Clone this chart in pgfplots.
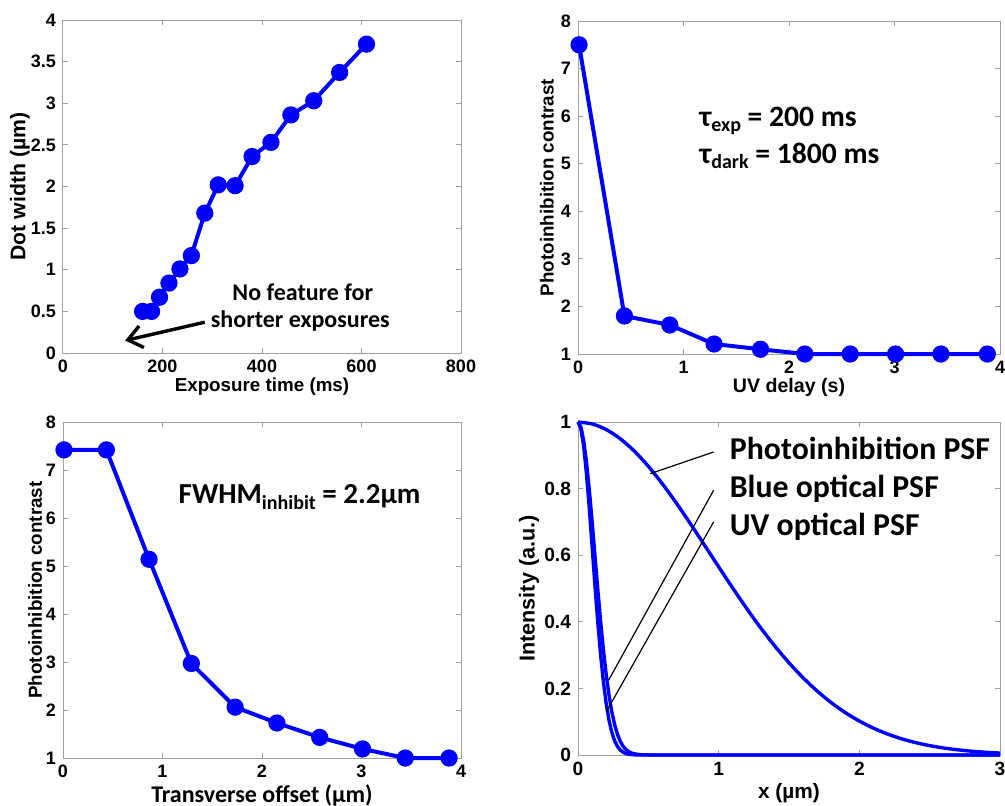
\documentclass[border=0pt]{standalone}
\usepackage{fontspec}
\setmainfont{Liberation Sans}
\newfontfamily\calibri{Carlito}
\usepackage{pgfplots}
\pgfplotsset{compat=1.18}
\usetikzlibrary{arrows.meta}

\tikzset{
  note/.style={font=\calibri\bfseries\fontsize{#1}{#1}\selectfont, inner sep=0pt},
}
\newcommand{\sub}[2][2.5pt]{\raisebox{-#1}{\fontsize{10}{10}\selectfont #2}}
\pgfplotsset{
  panel/.style={
    scale only axis,
    anchor=south west,
    axis line style={gray!75, line width=0.5pt},
    tick style={gray!75, line width=0.5pt},
    tick align=inside,
    major tick length=2.5pt,
    ticklabel style={font=\bfseries\fontsize{9}{10}\selectfont},
    /pgf/number format/assume math mode=true,
    label style={font=\bfseries\fontsize{9.4}{11}\selectfont},
    xlabel style={anchor=center},
    ylabel style={anchor=center},
    clip=false,
  },
  dataline/.style={blue, line width=2pt, mark=*, mark size=3.3pt,
    mark options={solid, fill=blue, draw=blue}},
  psf/.style={blue, line width=1.7pt},
}

\begin{document}
\begin{tikzpicture}
\useasboundingbox (0pt,0pt) rectangle (502.5pt,-402.5pt);

% Dot width versus exposure time
\begin{axis}[panel, at={(31.5pt,-176.5pt)}, width=199pt, height=166.5pt,
  xmin=0, xmax=800, ymin=0, ymax=4,
  xtick={0,200,400,600,800}, ytick={0,0.5,1,1.5,2,2.5,3,3.5,4},
  xlabel={Exposure time (ms)}, ylabel={Dot width (µm)},
  xlabel style={at={(axis description cs:0.5,-0.102)}},
  ylabel style={at={(axis description cs:-0.108,0.5)}, font=\bfseries\fontsize{10.6}{12}\selectfont}]
\addplot[dataline] coordinates {
  (160,0.50) (178,0.50) (194,0.67) (213,0.84) (235,1.01) (258,1.17)
  (285,1.68) (312,2.02) (346,2.01) (380,2.36) (418,2.53) (458,2.86)
  (504,3.03) (556,3.37) (610,3.71)};
\draw[-{Straight Barb[length=7pt,width=11pt]}, line width=1.7pt]
  (axis cs:285,0.37) -- (axis cs:125,0.15);
\node[note=12] at (axis cs:482,0.73) {No feature for};
\node[note=12] at (axis cs:477,0.39) {shorter exposures};
\end{axis}

% Contrast versus UV delay
\begin{axis}[panel, at={(289pt,-177pt)}, width=211pt, height=166.5pt,
  xmin=0, xmax=4, ymin=1, ymax=8,
  xtick={0,1,2,3,4}, ytick={1,2,...,8},
  xlabel={UV delay (s)}, ylabel={Photoinhibition contrast},
  xlabel style={at={(axis description cs:0.5,-0.099)}, font=\bfseries\fontsize{9.8}{11}\selectfont},
  ylabel style={at={(axis description cs:-0.0735,0.5)}}]
\addplot[dataline] coordinates {
  (0.01,7.50) (0.44,1.80) (0.87,1.61) (1.29,1.21) (1.73,1.10)
  (2.15,1.00) (2.58,1.00) (3.01,1.00) (3.44,1.00) (3.88,1.00)};
\node[note=14.8, anchor=base west] at (axis cs:1.15,5.78)
  {τ\sub{exp} = 200 ms};
\node[note=14.8, anchor=base west] at (axis cs:1.15,5.01)
  {τ\sub{dark} = 1800 ms};
\end{axis}

% Contrast versus transverse offset
\begin{axis}[panel, at={(31.5pt,-379pt)}, width=199pt, height=168pt,
  xmin=0, xmax=4, ymin=1, ymax=8,
  xtick={0,1,2,3,4}, ytick={1,2,...,8},
  xlabel={Transverse offset (µm)}, ylabel={Photoinhibition contrast},
  xlabel style={at={(axis description cs:0.5,-0.110)}, font=\calibri\bfseries\fontsize{12}{13}\selectfont},
  ylabel style={at={(axis description cs:-0.070,0.5)}}]
\addplot[dataline] coordinates {
  (0.01,7.42) (0.436,7.42) (0.865,5.14) (1.29,2.97) (1.73,2.06)
  (2.15,1.73) (2.58,1.43) (3.01,1.19) (3.44,1.00) (3.88,1.00)};
\node[note=14.5, anchor=base west] at (axis cs:1.159,6.31)
  {FWHM\sub[3.2pt]{inhibit} = 2.2µm};
\end{axis}

% Point spread functions
\begin{axis}[panel, at={(289pt,-377.5pt)}, width=211pt, height=166.5pt,
  xmin=0, xmax=3, ymin=0, ymax=1,
  xtick={0,1,2,3}, ytick={0,0.2,0.4,0.6,0.8,1},
  ticklabel style={font=\bfseries\fontsize{9.6}{10}\selectfont},
  xlabel={x (µm)}, ylabel={Intensity (a.u.)},
  xlabel style={at={(axis description cs:0.5,-0.114)}, font=\bfseries\fontsize{10.4}{12}\selectfont},
  ylabel style={at={(axis description cs:-0.116,0.5)}, font=\bfseries\fontsize{10.8}{12}\selectfont}]
\addplot[psf, smooth] coordinates {
  (0,1) (0.1,0.9943) (0.2,0.9774) (0.3,0.9499) (0.4,0.9127) (0.5,0.8670)
  (0.6,0.8143) (0.7,0.7560) (0.8,0.6940) (0.9,0.6298) (1.0,0.5651)
  (1.1,0.5013) (1.2,0.4396) (1.3,0.3811) (1.4,0.3267) (1.5,0.2769)
  (1.6,0.2320) (1.7,0.1921) (1.8,0.1573) (1.9,0.1274) (2.0,0.1020)
  (2.1,0.0807) (2.2,0.0631) (2.3,0.0488) (2.4,0.0373) (2.5,0.0282)
  (2.6,0.0211) (2.7,0.0156) (2.8,0.0114) (2.9,0.0082) (3.0,0.0059)};
\addplot[psf] coordinates {
  (0,1) (0.02,0.9860) (0.04,0.9450) (0.06,0.8806) (0.08,0.7976)
  (0.10,0.7023) (0.12,0.6012) (0.14,0.5003) (0.16,0.4047) (0.18,0.3183)
  (0.20,0.2433) (0.22,0.1808) (0.24,0.1306) (0.26,0.0917) (0.28,0.0626)
  (0.30,0.0416) (0.32,0.0268) (0.34,0.0168) (0.36,0.0103) (0.38,0.0061)
  (0.40,0.0035) (0.44,0.0011) (0.50,0.0002) (1,0) (2,0) (3,0)};
\addplot[psf] coordinates {
  (0,1) (0.02,0.9816) (0.04,0.9283) (0.06,0.8458) (0.08,0.7425)
  (0.10,0.6281) (0.12,0.5118) (0.14,0.4019) (0.16,0.3040) (0.18,0.2216)
  (0.20,0.1556) (0.22,0.1053) (0.24,0.0686) (0.26,0.0431) (0.28,0.0261)
  (0.30,0.0152) (0.32,0.0085) (0.34,0.0046) (0.36,0.0024) (0.40,0.0006)
  (0.50,0) (1,0) (2,0) (3,0)};
\draw[black, line width=0.6pt] (axis cs:0.964,0.91) -- (axis cs:0.514,0.845);
\draw[black, line width=0.6pt] (axis cs:0.964,0.795) -- (axis cs:0.218,0.225);
\draw[black, line width=0.6pt] (axis cs:0.964,0.70) -- (axis cs:0.201,0.13);
\node[note=15.9, anchor=base west] at (axis cs:1.077,0.887) {Photoinhibition PSF};
\node[note=15.9, anchor=base west] at (axis cs:1.077,0.772) {Blue optical PSF};
\node[note=15.9, anchor=base west] at (axis cs:1.077,0.660) {UV optical PSF};
\end{axis}
\end{tikzpicture}
\end{document}
